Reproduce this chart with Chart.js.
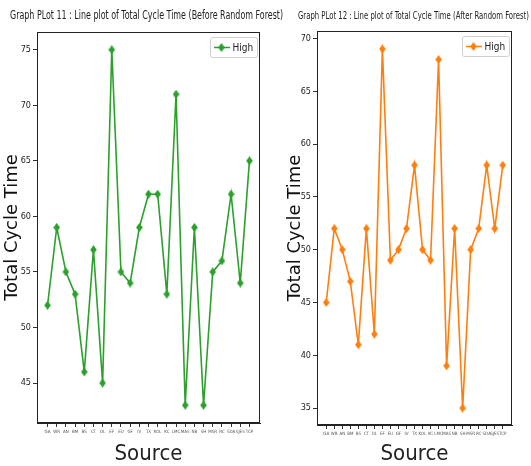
<!DOCTYPE html>
<html>
<head>
<meta charset="utf-8">
<script src="https://cdn.jsdelivr.net/npm/chart.js@4.4.1/dist/chart.umd.min.js"></script>
<style>
  html, body { margin: 0; padding: 0; background: #fff; }
  #wrap { position: relative; width: 531px; height: 466px; overflow: hidden; }
  #left { position: absolute; left: 0; top: 0; }
  #right { position: absolute; left: 284px; top: 0; }
</style>
</head>
<body>
<div id="wrap">
  <canvas id="left" width="288" height="466"></canvas>
  <canvas id="right" width="247" height="466"></canvas>
</div>
<script>
// sources on the x axis (labels too small to read exactly in the original)
const sources = ["GA", "WR", "AN", "BM", "BS", "CT", "DL", "EF", "EU", "GF", "IV", "TX",
                 "KOL", "KC", "LMC", "MAS", "NB", "SH", "MSR", "RC", "SDA", "SJES", "TCP"];
const cycleBefore = [52, 59, 55, 53, 46, 57, 45, 75, 55, 54, 59, 62, 62, 53, 71, 43, 59, 43, 55, 56, 62, 54, 65];
const cycleAfter  = [45, 52, 50, 47, 41, 52, 42, 69, 49, 50, 52, 58, 50, 49, 68, 39, 52, 35, 50, 52, 58, 52, 58];
const ticksBefore = [45, 50, 55, 60, 65, 70, 75];
const ticksAfter  = [35, 40, 45, 50, 55, 60, 65, 70];

const narrow = "'Liberation Sans Narrow', 'DejaVu Sans Condensed', sans-serif";

// thin diamond, optionally with a line through it (for the legend)
function diamond(color, withLine) {
    const c = document.createElement("canvas");
    c.width = withLine ? 16 : 7; c.height = 9;
    const g = c.getContext("2d");
    const cx = c.width / 2;
    if (withLine) {
        g.strokeStyle = color; g.lineWidth = 1.5;
        g.beginPath(); g.moveTo(0, 4.5); g.lineTo(16, 4.5); g.stroke();
    }
    g.fillStyle = color;
    g.beginPath();
    g.moveTo(cx, 0); g.lineTo(cx + 3.3, 4.5); g.lineTo(cx, 9); g.lineTo(cx - 3.3, 4.5);
    g.closePath(); g.fill();
    return c;
}

// black frame round the plot area
const framePlugin = {
    id: "frame",
    afterDraw(chart) {
        const a = chart.chartArea, ctx = chart.ctx;
        ctx.save();
        ctx.strokeStyle = "#222";
        ctx.lineWidth = 1;
        ctx.strokeRect(Math.round(a.left) + 0.5, Math.round(a.top) + 0.5,
                       Math.round(a.right - a.left) - 1, Math.round(a.bottom - a.top) - 1);
        ctx.restore();
    }
};

// title centred over the plot, squeezed to a fixed width like the original
const plotTitle = {
    id: "plotTitle",
    afterDraw(chart, args, opts) {
        const a = chart.chartArea, ctx = chart.ctx;
        ctx.save();
        ctx.font = opts.size + "px " + narrow;
        ctx.fillStyle = "#222";
        ctx.textAlign = "center";
        ctx.textBaseline = "middle";
        ctx.fillText(opts.text, (a.left + a.right) / 2 + opts.shift, opts.y, opts.width);
        ctx.restore();
    }
};

// legend box in the upper right corner, matplotlib style
const boxLegend = {
    id: "boxLegend",
    afterDatasetsDraw(chart) {
        const a = chart.chartArea, ctx = chart.ctx;
        const ds = chart.data.datasets[0];
        ctx.save();
        ctx.font = "10px " + narrow;
        const tw = ctx.measureText(ds.label).width;
        const w = Math.round(3 + 16 + 3 + tw + 4), h = 20;
        const x = Math.round(a.right - 3 - w) + 0.5, y = Math.round(a.top + 5) + 0.5;
        ctx.fillStyle = "rgba(255,255,255,0.8)";
        ctx.strokeStyle = "#cfcfcf";
        ctx.beginPath();
        ctx.roundRect(x, y, w, h, 2);
        ctx.fill(); ctx.stroke();
        ctx.drawImage(ds.legendMarker, x + 3, y + h / 2 - 4.5);
        ctx.fillStyle = "#222";
        ctx.textBaseline = "middle";
        ctx.fillText(ds.label, x + 22, y + h / 2 + 0.5);
        ctx.restore();
    }
};

function makeChart(id, opts) {
    const ctx = document.getElementById(id).getContext("2d");
    return new Chart(ctx, {
        type: "line",
        data: {
            datasets: [{
                label: "High",
                data: opts.values.map((v, i) => ({ x: i, y: v })),
                borderColor: opts.color,
                backgroundColor: opts.color,
                borderWidth: 1.6,
                pointStyle: diamond(opts.color, false),
                legendMarker: diamond(opts.color, true),
                tension: 0
            }]
        },
        options: {
            responsive: false,
            animation: false,
            layout: { padding: { left: 0, right: opts.padRight, top: opts.top, bottom: 0 } },
            plugins: {
                title: { display: false },
                plotTitle: opts.title,
                legend: { display: false },
                tooltip: { enabled: false }
            },
            scales: {
                x: {
                    type: "linear",
                    min: -1.15,
                    max: sources.length - 1 + 1.15,
                    afterBuildTicks: s => { s.ticks = sources.map((_, i) => ({ value: i })); },
                    afterFit: s => { s.height = 466 - opts.bottom; },
                    grid: { drawOnChartArea: false, tickLength: 4, color: "#333" },
                    border: { color: "#222" },
                    ticks: {
                        autoSkip: false, maxRotation: 0, minRotation: 0, padding: 2,
                        color: "#555",
                        font: { family: narrow, size: 4.5 },
                        callback: v => sources[v]
                    },
                    title: {
                        display: true, text: "Source", color: "#222",
                        font: { family: narrow, size: 22, lineHeight: 1.1 },
                        padding: { top: 0, bottom: 0 }
                    }
                },
                y: {
                    min: opts.yMin,
                    max: opts.yMax,
                    afterBuildTicks: s => { s.ticks = opts.yTicks.map(v => ({ value: v })); },
                    afterFit: s => { s.width = opts.left; },
                    grid: { drawOnChartArea: false, tickLength: 4, color: "#333" },
                    border: { color: "#222" },
                    ticks: {
                        padding: 2, color: "#222",
                        font: { family: narrow, size: 9 }
                    },
                    title: {
                        display: true, text: "Total Cycle Time", color: "#111",
                        font: { family: "'DejaVu Sans', sans-serif", size: 18, lineHeight: 1.0 },
                        padding: { top: opts.yTitlePad, bottom: 0 }
                    }
                }
            }
        },
        plugins: [framePlugin, boxLegend, plotTitle]
    });
}

makeChart("left", {
    values: cycleBefore,
    color: "#2ca02c",
    title: { text: "Graph PLot 11 : Line plot of Total Cycle Time (Before Random Forest)",
             size: 12, width: 273, y: 16, shift: -2 },
    top: 32,
    yMin: 41.4, yMax: 76.6, yTicks: ticksBefore,
    left: 37, padRight: 28, bottom: 423, yTitlePad: 3
});

makeChart("right", {
    values: cycleAfter,
    color: "#ff7f0e",
    title: { text: "Graph PLot 12 : Line plot of Total Cycle Time (After Random Forest)",
             size: 11, width: 231, y: 16, shift: -1 },
    top: 31,
    yMin: 33.4, yMax: 70.7, yTicks: ticksAfter,
    left: 33, padRight: 19, bottom: 425, yTitlePad: 2
});
</script>
</body>
</html>
